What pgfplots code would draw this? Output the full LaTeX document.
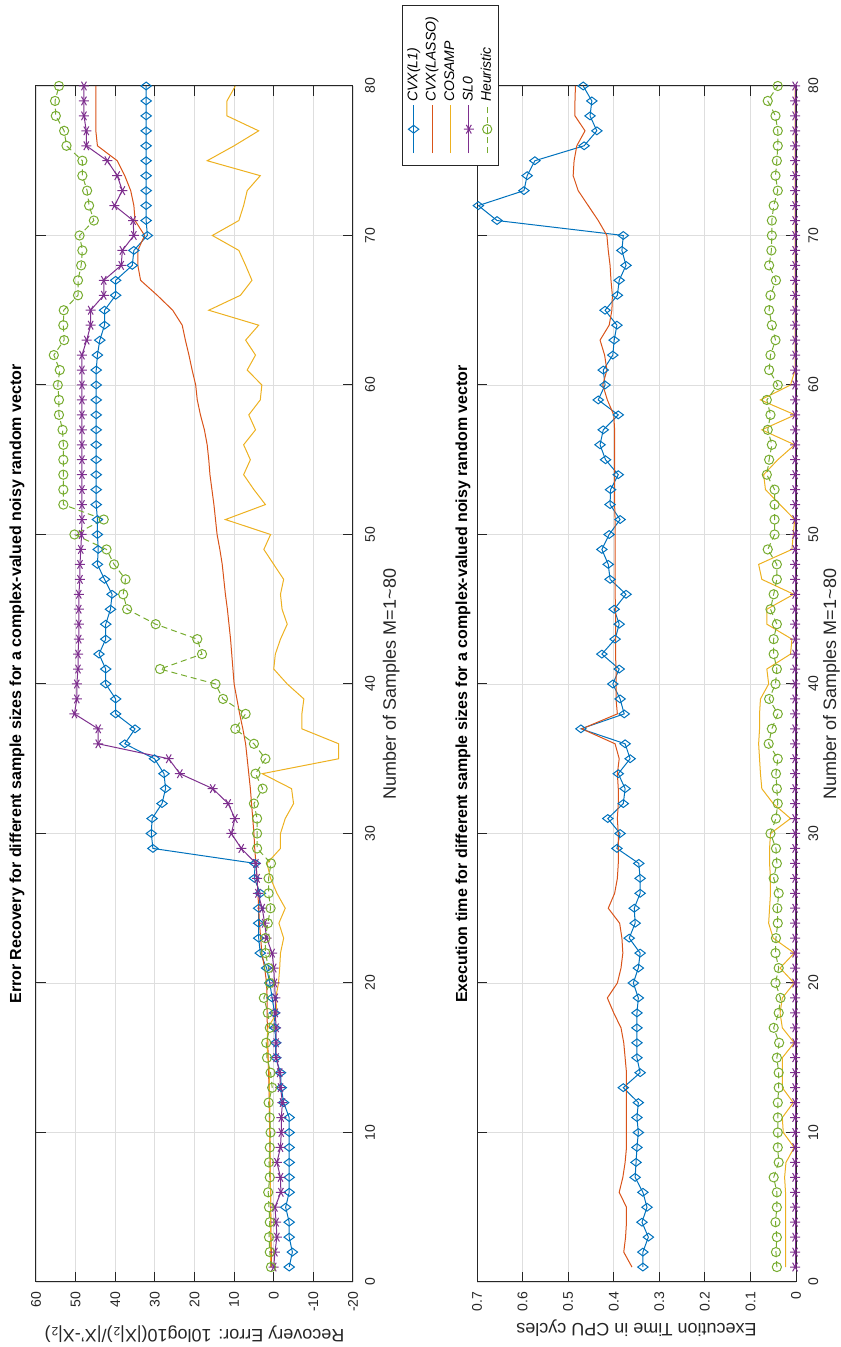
\documentclass[border=0pt]{standalone}
\usepackage{pgfplots}
\usepackage{pgfplotstable}
\pgfplotsset{compat=1.18}
\usepackage{fontspec}
\setmainfont{Liberation Sans}
\definecolor{mblue}{rgb}{0,0.447,0.741}
\definecolor{morange}{rgb}{0.85,0.325,0.098}
\definecolor{myellow}{rgb}{0.929,0.694,0.125}
\definecolor{mpurple}{rgb}{0.494,0.184,0.556}
\definecolor{mgreen}{rgb}{0.466,0.674,0.188}
\definecolor{maxis}{rgb}{0.15,0.15,0.15}

\pgfplotstableread{
M l1 lasso cosamp sl0 heur
1 -3.9 0.6 0.8 0.0 0.7
2 -4.7 0.6 0.8 -0.3 1.0
3 -3.9 0.7 0.8 -0.8 1.2
4 -3.9 0.7 0.8 -0.6 1.0
5 -3.0 0.8 0.8 -0.3 1.2
6 -3.9 0.8 0.8 -1.8 1.4
7 -3.9 0.9 0.9 -1.7 1.0
8 -3.9 0.9 0.9 -0.8 1.2
9 -3.9 1.0 0.9 -1.7 1.0
10 -3.9 1.0 1.0 -1.9 0.8
11 -3.9 1.1 1.0 -1.9 1.0
12 -2.5 1.1 1.0 -2.2 1.3
13 -1.9 1.2 1.1 -1.7 0.4
14 -1.7 1.3 1.1 -1.5 0.8
15 -0.5 1.4 1.5 -0.6 1.7
16 -0.5 1.5 1.7 -0.6 1.9
17 -0.3 1.6 1.5 -0.6 1.0
18 -0.2 1.7 -0.8 -0.4 1.5
19 0.4 1.7 -0.5 -0.4 2.5
20 1.0 1.8 -1.2 -0.2 1.0
21 1.8 2.3 -1.5 0.0 1.3
22 3.4 3.0 -1.7 0.4 2.1
23 3.8 3.3 -2.5 1.8 2.1
24 3.8 3.6 -1.3 2.3 1.5
25 3.8 3.8 -2.9 2.9 0.8
26 3.4 4.0 -0.8 4.0 1.3
27 4.9 4.2 0.8 4.2 1.3
28 4.7 4.5 1.7 4.5 0.7
29 30.5 4.8 -1.7 8.2 4.2
30 30.9 5.0 -1.7 10.7 4.2
31 30.7 5.3 -2.9 9.8 4.2
32 28.2 5.6 -5.0 11.5 5.0
33 27.3 5.9 -4.5 15.4 2.8
34 27.7 6.3 2.9 23.7 4.6
35 30.1 6.7 -16.4 26.5 2.1
36 37.6 7.1 -16.4 44.3 5.0
37 35.0 7.8 -7.1 44.3 9.7
38 39.9 8.6 -7.1 50.3 7.1
39 39.9 9.3 -7.6 49.7 12.8
40 42.4 10.0 -3.4 49.7 14.7
41 42.4 10.3 0.0 49.4 28.7
42 44.1 10.6 -0.4 49.4 18.1
43 42.4 10.9 -1.7 49.2 19.3
44 42.4 11.3 -3.4 49.2 29.8
45 41.2 11.7 -2.1 49.2 37.0
46 40.8 12.2 -1.7 49.2 38.0
47 42.7 12.6 -2.5 48.9 37.4
48 44.5 13.0 0.0 48.9 40.3
49 44.3 13.6 2.5 48.7 42.2
50 44.5 14.3 0.8 48.5 50.3
51 44.5 14.7 12.2 48.4 42.9
52 44.8 15.1 2.1 48.4 53.1
53 44.8 15.6 5.0 48.4 53.1
54 44.8 16.1 7.6 48.4 53.1
55 44.8 16.4 5.9 48.4 53.1
56 44.8 16.8 7.6 48.4 53.1
57 44.8 17.5 4.6 48.4 53.3
58 44.8 18.5 6.3 48.4 54.2
59 44.8 19.3 3.4 48.4 54.2
60 44.8 19.7 3.0 48.4 54.5
61 44.8 20.6 6.7 48.4 54.0
62 44.5 21.4 4.6 48.4 55.5
63 43.9 22.3 7.1 47.2 52.9
64 42.7 23.1 3.8 46.2 53.1
65 42.7 25.5 16.4 46.2 53.0
66 39.9 29.4 8.4 42.9 49.4
67 39.9 33.6 5.5 42.9 49.4
68 35.7 34.3 7.1 38.5 48.6
69 35.3 34.3 8.8 38.2 48.3
70 31.9 32.6 15.5 35.3 49.0
71 32.2 35.0 8.8 35.5 45.4
72 32.2 35.3 7.6 40.2 46.6
73 32.2 36.1 6.7 38.2 47.1
74 32.2 37.6 3.4 39.5 48.3
75 32.2 39.5 16.8 42.0 48.3
76 32.2 44.5 10.0 47.3 52.3
77 32.2 44.9 3.8 47.3 52.9
78 32.2 44.9 11.8 47.9 55.0
79 32.2 44.9 11.8 47.9 55.2
80 32.2 44.9 9.7 47.9 54.2
}\errtable

\pgfplotstableread{
M l1 lasso cosamp sl0 heur
1 0.336 0.360 0.023 0.002 0.042
2 0.336 0.378 0.023 0.002 0.044
3 0.324 0.374 0.023 0.002 0.042
4 0.338 0.372 0.023 0.002 0.045
5 0.327 0.372 0.023 0.002 0.042
6 0.336 0.388 0.023 0.002 0.042
7 0.353 0.380 0.025 0.002 0.049
8 0.351 0.375 0.022 0.002 0.038
9 0.349 0.372 0.004 0.002 0.040
10 0.346 0.372 0.028 0.002 0.040
11 0.349 0.372 0.030 0.002 0.040
12 0.346 0.372 0.006 0.002 0.040
13 0.379 0.372 0.030 0.002 0.038
14 0.342 0.372 0.030 0.002 0.038
15 0.349 0.375 0.030 0.002 0.042
16 0.349 0.378 0.004 0.002 0.037
17 0.349 0.384 0.030 0.002 0.049
18 0.349 0.400 0.035 0.002 0.038
19 0.346 0.414 0.030 0.002 0.034
20 0.357 0.392 0.004 0.002 0.045
21 0.346 0.384 0.035 0.002 0.038
22 0.342 0.380 0.004 0.002 0.045
23 0.366 0.382 0.050 0.002 0.044
24 0.353 0.387 0.060 0.002 0.040
25 0.355 0.412 0.058 0.002 0.041
26 0.342 0.398 0.056 0.002 0.038
27 0.342 0.392 0.056 0.002 0.049
28 0.345 0.390 0.058 0.002 0.042
29 0.393 0.390 0.058 0.002 0.044
30 0.386 0.390 0.056 0.002 0.056
31 0.413 0.392 0.012 0.002 0.044
32 0.379 0.390 0.050 0.002 0.040
33 0.375 0.390 0.075 0.002 0.042
34 0.390 0.392 0.078 0.002 0.044
35 0.364 0.388 0.080 0.002 0.040
36 0.375 0.397 0.082 0.002 0.060
37 0.472 0.470 0.080 0.002 0.053
38 0.377 0.392 0.080 0.002 0.040
39 0.386 0.395 0.078 0.002 0.059
40 0.402 0.395 0.060 0.002 0.045
41 0.388 0.395 0.064 0.002 0.042
42 0.426 0.396 0.012 0.002 0.049
43 0.397 0.396 0.009 0.002 0.049
44 0.388 0.396 0.064 0.002 0.042
45 0.399 0.396 0.064 0.002 0.056
46 0.373 0.397 0.005 0.002 0.049
47 0.408 0.397 0.075 0.002 0.042
48 0.412 0.397 0.082 0.002 0.042
49 0.426 0.397 0.009 0.002 0.062
50 0.410 0.397 0.006 0.002 0.047
51 0.386 0.397 0.003 0.002 0.047
52 0.408 0.398 0.035 0.002 0.047
53 0.407 0.398 0.067 0.002 0.047
54 0.390 0.398 0.071 0.002 0.064
55 0.418 0.398 0.040 0.002 0.059
56 0.430 0.398 0.003 0.002 0.053
57 0.423 0.398 0.075 0.002 0.062
58 0.390 0.400 0.002 0.002 0.056
59 0.434 0.414 0.078 0.002 0.064
60 0.419 0.424 0.012 0.002 0.040
61 0.423 0.415 0.002 0.002 0.059
62 0.402 0.420 0.002 0.002 0.056
63 0.399 0.430 0.002 0.002 0.045
64 0.393 0.410 0.002 0.002 0.053
65 0.419 0.404 0.002 0.002 0.059
66 0.392 0.403 0.002 0.002 0.056
67 0.388 0.406 0.002 0.002 0.044
68 0.373 0.408 0.002 0.002 0.059
69 0.382 0.412 0.002 0.002 0.054
70 0.379 0.415 0.002 0.002 0.053
71 0.656 0.434 0.002 0.002 0.053
72 0.697 0.456 0.002 0.002 0.049
73 0.597 0.478 0.002 0.002 0.040
74 0.590 0.489 0.002 0.002 0.045
75 0.573 0.487 0.002 0.002 0.042
76 0.465 0.481 0.002 0.002 0.040
77 0.437 0.463 0.002 0.002 0.040
78 0.452 0.485 0.002 0.002 0.045
79 0.448 0.485 0.002 0.002 0.062
80 0.467 0.484 0.002 0.002 0.040
}\timetable

\pgfplotsset{
  matlab/.style={
    scale only axis, width=598pt,
    xmin=0, xmax=80,
    xtick={0,10,...,80},
    xticklabels={0,10,20,30,40,50,60,70,80},
    axis line style={draw=maxis, line width=0.5pt},
    tick style={draw=maxis, line width=0.5pt},
    tick align=inside, major tick length=5pt,
    grid=major, major grid style={draw=black!13, line width=0.4pt},
    ticklabel style={font=\fontsize{7}{8}\selectfont, text=maxis},
    xticklabel style={anchor=base, yshift=-11pt},
    yticklabel style={anchor=east, xshift=-1.3pt},
    every axis title/.style={anchor=base, font=\fontsize{8}{9.6}\selectfont\bfseries, text=black},
    every axis x label/.style={anchor=base, font=\fontsize{9}{10.8}\selectfont, text=maxis},
    every axis y label/.style={anchor=base, rotate=90, font=\fontsize{9}{10.8}\selectfont, text=maxis},
    legend cell align=left,
    legend image code/.code={\pgfinterruptboundingbox\draw[mark repeat=2,mark phase=2,##1] plot coordinates {(-12.5pt,0pt) (-0.5pt,0pt) (11.5pt,0pt)};\endpgfinterruptboundingbox\path (-14pt,0pt) (0pt,0pt);},
  },
  sL1/.style={color=mblue, draw=mblue, line width=0.5pt, mark=diamond, mark size=2.6pt, mark options={solid, draw=mblue}},
  sLASSO/.style={color=morange, draw=morange, line width=0.5pt, no markers},
  sCOSAMP/.style={color=myellow, draw=myellow, line width=0.5pt, no markers},
  sSL0/.style={color=mpurple, draw=mpurple, line width=0.5pt, mark=asterisk, mark size=2.5pt, mark options={solid, draw=mpurple}},
  sHEUR/.style={color=mgreen, draw=mgreen, line width=0.5pt, dash pattern=on 3pt off 2pt, mark=o, mark size=2.3pt, mark options={solid, draw=mgreen}},
}

\begin{document}
\begin{tikzpicture}[rotate=90, transform shape]
\useasboundingbox (0pt,0pt) rectangle (673.5pt,420pt);
\begin{axis}[matlab,
  at={(32.5pt,243.5pt)}, anchor=south west, height=158.5pt,
  ymin=-20, ymax=60, ytick={-20,-10,...,60},
  yticklabels={-20,-10,0,10,20,30,40,50,60},
  title={Error Recovery for different sample sizes for a complex-valued noisy random vector},
  title style={at={(axis description cs:0.5,1.0473)}},
  xlabel={Number of Samples M=1\textasciitilde 80},
  xlabel style={at={(axis description cs:0.5,-0.1356)}},
  ylabel={Recovery Error: 10log10(|X|\textsubscript{2})/|X'-X|\textsubscript{2})},
  ylabel style={at={(axis description cs:-0.0401,0.5)}},
]
\addplot[sL1] table[x=M, y=l1] {\errtable};
\addplot[sLASSO] table[x=M, y=lasso] {\errtable};
\addplot[sCOSAMP] table[x=M, y=cosamp] {\errtable};
\addplot[sSL0] table[x=M, y=sl0] {\errtable};
\addplot[sHEUR] table[x=M, y=heur] {\errtable};
\end{axis}
\begin{axis}[matlab,
  at={(32.5pt,22pt)}, anchor=south west, height=159.5pt,
  ymin=0, ymax=0.7, ytick={0,0.1,...,0.7},
  yticklabels={0,0.1,0.2,0.3,0.4,0.5,0.6,0.7},
  title={Execution time for different sample sizes for a complex-valued noisy random vector},
  title style={at={(axis description cs:0.5,1.0313)}},
  xlabel={Number of Samples M=1\textasciitilde 80},
  xlabel style={at={(axis description cs:0.5,-0.1254)}},
  ylabel={Execution Time in CPU cycles},
  ylabel style={at={(axis description cs:-0.0343,0.5)}},
  legend style={at={(1.0677,1.2351)}, anchor=north east, draw=maxis, fill=white,
    font=\fontsize{7}{8.4}\selectfont\itshape, row sep=0pt, inner xsep=4.5pt, inner ysep=1pt,
    column sep=0pt,
    nodes={inner sep=1.25pt, text height=5.2pt, text depth=1.5pt}},
]
\addplot[sL1] table[x=M, y=l1] {\timetable};
\addplot[sLASSO] table[x=M, y=lasso] {\timetable};
\addplot[sCOSAMP] table[x=M, y=cosamp] {\timetable};
\addplot[sSL0] table[x=M, y=sl0] {\timetable};
\addplot[sHEUR] table[x=M, y=heur] {\timetable};
\legend{\hspace*{11.75pt}CVX(L1),\hspace*{11.75pt}CVX(LASSO),\hspace*{11.75pt}COSAMP,\hspace*{11.75pt}SL0,\hspace*{11.75pt}Heuristic}
\end{axis}
\end{tikzpicture}
\end{document}
